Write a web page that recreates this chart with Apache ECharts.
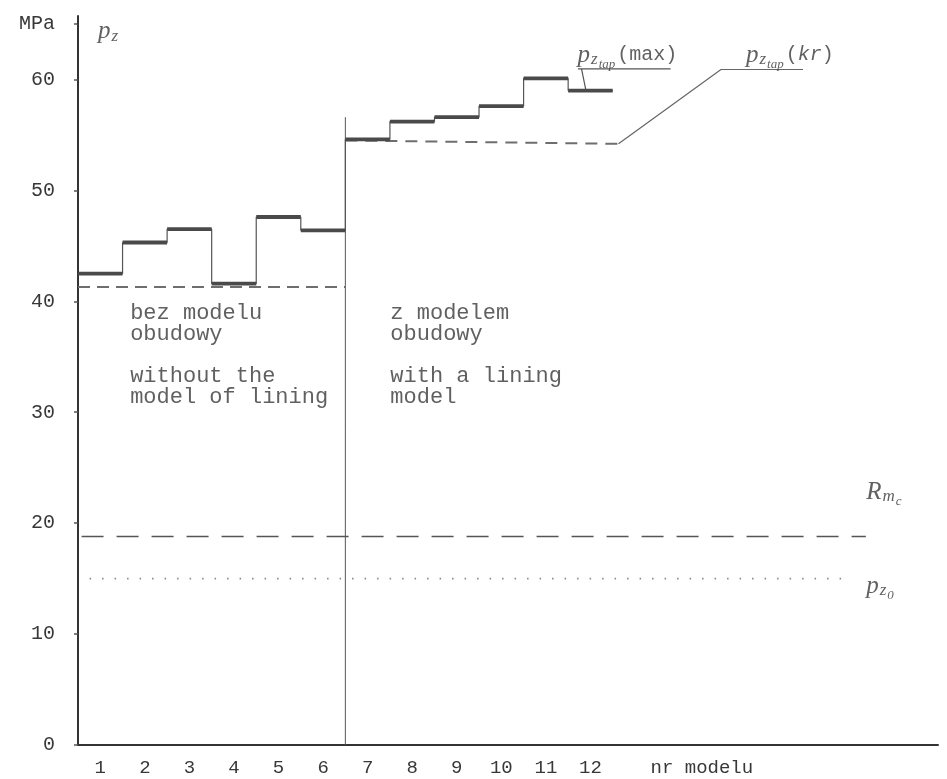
<!DOCTYPE html>
<html>
<head>
<meta charset="utf-8">
<script src="https://cdn.jsdelivr.net/npm/echarts@6/dist/echarts.min.js"></script>
<style>
  html, body { margin: 0; padding: 0; background: #ffffff; }
  #chart { width: 947px; height: 779px; }
</style>
</head>
<body>
<div id="chart"></div>
<script>
// Model numbers on the horizontal axis
const modelNumbers = [1, 2, 3, 4, 5, 6, 7, 8, 9, 10, 11, 12];
// p_z tap (max) for models without the lining model (1-6) and with it (7-12), MPa
const pzMaxWithout = [42.5, 45.3, 46.5, 41.6, 47.6, 46.4];
const pzMaxWith = [54.6, 56.2, 56.6, 57.6, 60.1, 59.0];
// p_z tap (kr): critical level, start and end of each group, MPa
const pzKrWithout = [41.3, 41.3];
const pzKrWith = [54.5, 54.2];
// reference levels, MPa
const rmc = 18.8;
const pz0 = 15.0;
// vertical axis ticks
const yTickStep = 10;
const yTop = 65;

const ink = '#383838';
const mono = '"Liberation Mono", "DejaVu Sans Mono", monospace';
const serif = '"Liberation Serif", "DejaVu Serif", serif';

const pzMax = pzMaxWithout.concat(pzMaxWith);

// thin outline of the stepped curve (horizontal runs plus vertical risers)
const outline = [];
pzMax.forEach((v, i) => {
  const m = modelNumbers[i];
  outline.push([m - 0.5, v], [m + 0.5, v]);
});

const baseLine = {
  type: 'line', symbol: 'none', silent: true, animation: false
};

const rich = {
  p: { fontFamily: serif, fontStyle: 'italic', fontSize: 25, color: ink, lineHeight: 32, verticalAlign: 'middle' },
  s1: { fontFamily: serif, fontStyle: 'italic', fontSize: 17, color: ink, lineHeight: 17, verticalAlign: 'bottom', padding: [0, 1, 3, 1] },
  s2: { fontFamily: serif, fontStyle: 'italic', fontSize: 13, color: ink, lineHeight: 13, verticalAlign: 'bottom', padding: [0, 2, 0, 0] },
  m: { fontFamily: mono, fontSize: 20, color: ink, verticalAlign: 'middle' },
  mi: { fontFamily: mono, fontStyle: 'italic', fontSize: 20, color: ink, verticalAlign: 'middle' }
};

// annotation anchors in data units: [model axis, MPa]
const annotations = [
  { at: [0.95, 64.3], text: '{p|p}{s1|z}' },
  { at: [11.71, 62.2], text: '{p|p}{s1|z}{s2|tap}{m|(max)}' },
  { at: [15.49, 62.2], text: '{p|p}{s1|z}{s2|tap}{m|(}{mi|kr}{m|)}' },
  { at: [18.19, 22.8], text: '{p|R}{s1|m}{s2|c}' },
  { at: [18.19, 14.3], text: '{p|p}{s1|z}{s2|0}' }
];

const blocks = [
  { at: [1.67, 39.9], text: 'bez modelu\nobudowy', width: 216 },
  { at: [1.67, 34.2], text: 'without the\nmodel of lining', width: 216 },
  { at: [7.51, 39.9], text: 'z modelem\nobudowy', width: 400 },
  { at: [7.51, 34.2], text: 'with a lining\nmodel', width: 400 }
];

const option = {
  animation: false,
  backgroundColor: '#ffffff',
  grid: { left: 78, right: 9, top: 24, bottom: 34, containLabel: false, outerBoundsMode: 'none' },
  xAxis: {
    type: 'value', min: 0.5, max: 19.8, interval: 0.5,
    axisLine: { show: true, lineStyle: { color: '#333', width: 2 } },
    axisTick: { show: false },
    splitLine: { show: false },
    axisLabel: {
      margin: 13, fontFamily: mono, fontSize: 19, color: ink,
      showMinLabel: false, showMaxLabel: false,
      formatter: (v) => {
        if (modelNumbers.indexOf(v) >= 0) return String(v);
        if (v === 14.5) return 'nr modelu';
        return '';
      }
    }
  },
  yAxis: {
    type: 'value', min: 0, max: yTop, interval: yTickStep,
    axisLine: { show: true, lineStyle: { color: '#333', width: 2 } },
    axisTick: { show: true, length: 4, lineStyle: { color: '#555', width: 1.5 } },
    splitLine: { show: false },
    axisLabel: {
      margin: 23, fontFamily: mono, fontSize: 20, color: ink,
      formatter: (v) => (v === yTop ? 'MPa' : (v % yTickStep === 0 ? String(v) : ''))
    }
  },
  series: [
    // short continuation of the vertical axis above the MPa tick
    Object.assign({}, baseLine, {
      data: [[0.5, yTop], [0.5, yTop + 0.8]], clip: false,
      lineStyle: { color: '#333', width: 2 }, z: 1
    }),
    // divider between the two groups of models
    Object.assign({}, baseLine, {
      data: [[6.5, 0], [6.5, 56.6]],
      lineStyle: { color: '#555', width: 1 }, z: 1
    }),
    // reference strength R_mc
    Object.assign({}, baseLine, {
      data: [[0.58, rmc], [18.18, rmc]],
      lineStyle: { color: '#555', width: 1.6, type: [22, 13] }, z: 1
    }),
    // initial pressure p_z0
    Object.assign({}, baseLine, {
      data: [[0.76, pz0], [17.7, pz0]],
      lineStyle: { color: '#888', width: 1.6, type: [1.5, 11] }, z: 1
    }),
    // critical level, models without the lining
    Object.assign({}, baseLine, {
      data: [[0.5, pzKrWithout[0]], [6.5, pzKrWithout[1]]],
      lineStyle: { color: '#6e6e6e', width: 2, type: [12, 7] }, z: 2
    }),
    // critical level, models with the lining
    Object.assign({}, baseLine, {
      data: [[6.5, pzKrWith[0]], [12.63, pzKrWith[1]]],
      lineStyle: { color: '#6e6e6e', width: 2, type: [12, 8] }, z: 2
    }),
    // leader to the (kr) label
    Object.assign({}, baseLine, {
      data: [[12.63, pzKrWith[1]], [14.93, 60.9], [16.77, 60.9]],
      lineStyle: { color: '#666', width: 1.2 }, z: 2
    }),
    // leader to the (max) label
    Object.assign({}, baseLine, {
      data: [[13.8, 60.95], [11.72, 60.95]],
      lineStyle: { color: '#555', width: 1.4 }, z: 2
    }),
    Object.assign({}, baseLine, {
      data: [[11.8, 60.95], [11.9, pzMax[11]]],
      lineStyle: { color: '#555', width: 1.2 }, z: 2
    }),
    // stepped p_z tap (max): thin outline
    Object.assign({}, baseLine, {
      data: outline,
      lineStyle: { color: '#555', width: 1.2 }, z: 3
    }),
    // stepped p_z tap (max): heavy horizontal runs
    {
      type: 'custom', silent: true, animation: false, z: 4,
      data: pzMax.map((v, i) => [modelNumbers[i], v]),
      encode: { x: 0, y: 1 },
      renderItem: (params, api) => {
        const m = api.value(0), v = api.value(1);
        const a = api.coord([m - 0.5, v]);
        const b = api.coord([m + 0.5, v]);
        return {
          type: 'line',
          shape: { x1: a[0], y1: a[1], x2: b[0], y2: b[1] },
          style: { stroke: '#4a4a4a', lineWidth: 3.8 }
        };
      }
    },
    // symbol labels
    {
      type: 'scatter', symbolSize: 0, silent: true, animation: false, z: 5,
      data: annotations.map((a) => ({
        value: a.at,
        label: { show: true, position: 'right', distance: 0, formatter: a.text, rich: rich }
      }))
    },
    // group descriptions
    {
      type: 'scatter', symbolSize: 0, silent: true, animation: false, z: 5,
      data: blocks.map((b) => ({
        value: b.at,
        label: {
          show: true, position: 'right', distance: 0, formatter: b.text,
          align: 'left', verticalAlign: 'top',
          fontFamily: mono, fontSize: 22, lineHeight: 21, color: ink,
          width: b.width, overflow: 'truncate', ellipsis: ''
        }
      }))
    }
  ]
};

const chart = echarts.init(document.getElementById('chart'));
chart.setOption(option);
</script>
</body>
</html>
